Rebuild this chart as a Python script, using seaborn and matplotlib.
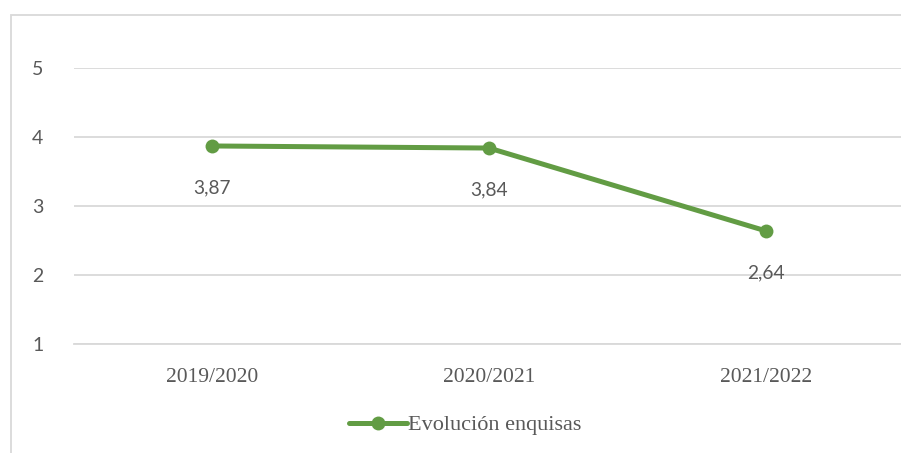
import pandas as pd
import matplotlib.pyplot as plt
import seaborn as sns
from matplotlib.patches import Rectangle

# data
cursos = ["2019/2020", "2020/2021", "2021/2022"]
valores = [3.87, 3.84, 2.64]
etiquetas = ["3,87", "3,84", "2,64"]
serie = "Evolución enquisas"

df = pd.DataFrame({"Curso": cursos, "Valor": valores})

sns.set_theme(style="white")
plt.rcParams["font.family"] = ["Lato", "DejaVu Sans"]

verde = "#629C44"
gris = "#595959"
serif = ["Liberation Serif", "DejaVu Serif"]

fig = plt.figure(figsize=(9.01, 4.53), dpi=100)
ax = fig.add_axes([74 / 901, 1 - 344 / 453, 830 / 901, 276 / 453])

sns.lineplot(data=df, x="Curso", y="Valor", ax=ax, color=verde, linewidth=3.6,
             marker="o", markersize=10, markeredgewidth=0, label=serie, sort=False)

for i, (v, t) in enumerate(zip(valores, etiquetas)):
    ax.annotate(t, (i, v), xytext=(0, -30), textcoords="offset points",
                ha="center", va="center", fontsize=13.8, color=gris)

ax.set_xlim(-0.5, 2.5)
ax.set_ylim(1, 5)
ax.set_yticks([1, 2, 3, 4, 5])
ax.yaxis.grid(True, color="#D9D9D9", linewidth=1.3)
ax.set_axisbelow(True)
for s in ["top", "right", "left"]:
    ax.spines[s].set_visible(False)
ax.spines["bottom"].set_color("#D9D9D9")
ax.spines["bottom"].set_linewidth(1.3)
ax.set_xlabel("")
ax.set_ylabel("")
ax.tick_params(axis="y", length=0, pad=22, labelsize=14, labelcolor=gris)
ax.tick_params(axis="x", length=0, pad=17, labelsize=15.5, labelcolor=gris)
for lab in ax.get_xticklabels():
    lab.set_family(serif)

leg = ax.legend(loc="center", bbox_to_anchor=(465 / 901, 1 - 425 / 453),
                bbox_transform=fig.transFigure, frameon=False, handlelength=2.6,
                handletextpad=0.05, prop={"family": serif, "size": 16})
for t in leg.get_texts():
    t.set_color(gris)

# chart frame (only left and top edges fall inside the picture)
fig.patches.append(Rectangle((10.5 / 901, -0.1), 1.2, 1 - 14.5 / 453 + 0.1,
                             transform=fig.transFigure, fill=False,
                             edgecolor="#D9D9D9", linewidth=1.3))

fig.savefig("out.png", dpi=100)
